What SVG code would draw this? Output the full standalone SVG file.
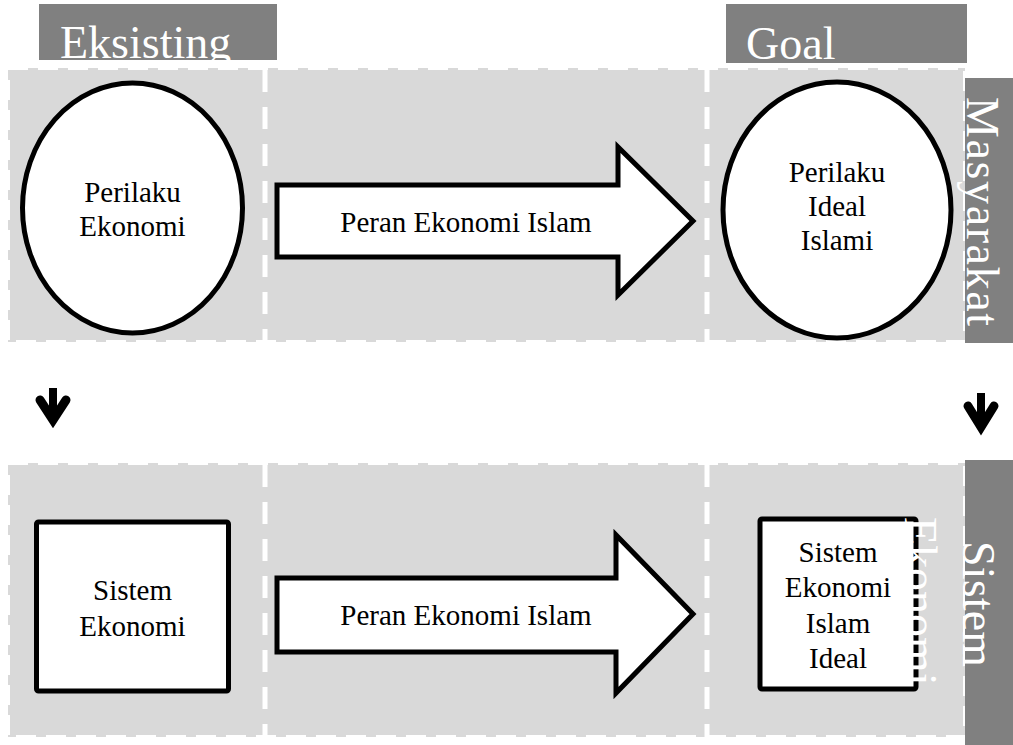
<svg xmlns="http://www.w3.org/2000/svg" width="1013" height="745" viewBox="0 0 1013 745">
<style>
.panel{fill:#d9d9d9;stroke:#ffffff;stroke-width:4;stroke-dasharray:20 10}
.vdash{stroke:#ffffff;stroke-width:5;stroke-dasharray:22 15;fill:none}
.dark{fill:#808080}
.node{fill:#ffffff;stroke:#000000;stroke-width:5}
.big{fill:#ffffff;stroke:#000000;stroke-width:5;stroke-linejoin:miter}
.t{font-family:'Liberation Serif',Tinos,Times,'Times New Roman',serif;font-size:29px;fill:#000000;text-anchor:middle}
.h{font-family:'Liberation Serif',Tinos,Times,'Times New Roman',serif;font-size:46px;fill:#ffffff}
.stem{stroke:#000000;stroke-width:8;fill:none}
.chev{stroke:#000000;stroke-width:9;fill:none;stroke-linecap:round;stroke-linejoin:miter;stroke-miterlimit:10}
</style>
<defs>
<clipPath id="clipEks"><rect x="39" y="4" width="238" height="56"/></clipPath>
</defs>
<rect width="1013" height="745" fill="#ffffff"/>

<g id="panels">
<rect class="panel" x="8" y="68" width="957" height="274"/>
<rect class="panel" x="8" y="463" width="957" height="274"/>
<line class="vdash" x1="265" y1="70" x2="265" y2="342"/>
<line class="vdash" x1="707" y1="70" x2="707" y2="342"/>
<line class="vdash" x1="265" y1="465" x2="265" y2="737"/>
<line class="vdash" x1="707" y1="465" x2="707" y2="737"/>
</g>

<g id="header-eksisting">
<rect class="dark" x="39" y="4" width="238" height="56"/>
<text class="h" font-family="Liberation Serif, serif" x="60" y="58" clip-path="url(#clipEks)">Eksisting</text>
</g>
<g id="header-goal">
<rect class="dark" x="726" y="4" width="241" height="59"/>
<text class="h" x="746" y="59">Goal</text>
</g>
<g id="label-masyarakat">
<rect class="dark" x="965" y="78" width="48" height="265"/>
<text class="h" transform="translate(967,97) rotate(90)" x="0" y="0" textLength="229" lengthAdjust="spacing">Masyarakat</text>
</g>
<g id="label-sistem">
<rect class="dark" x="965" y="460" width="48" height="285"/>
<text class="h" transform="translate(963,541) rotate(90)" x="0" y="0" textLength="126" lengthAdjust="spacing">Sistem</text>
</g>

<g id="node-perilaku-ekonomi">
<ellipse class="node" cx="132.5" cy="208" rx="110" ry="125"/>
<text class="t" x="132.5" y="202">Perilaku</text>
<text class="t" x="132.5" y="236">Ekonomi</text>
</g>

<g id="node-perilaku-ideal">
<ellipse class="node" cx="837" cy="210" rx="114" ry="128"/>
<text class="t" x="837" y="182">Perilaku</text>
<text class="t" x="837" y="216">Ideal</text>
<text class="t" x="837" y="250">Islami</text>
</g>

<g id="node-sistem-ekonomi">
<rect class="node" x="36.5" y="522" width="192" height="169" rx="2"/>
<text class="t" x="132.5" y="600">Sistem</text>
<text class="t" x="132.5" y="636">Ekonomi</text>
</g>

<g id="node-sistem-ideal">
<rect class="node" x="760" y="519" width="156" height="170" rx="2"/>
<text class="t" x="838" y="562">Sistem</text>
<text class="t" x="838" y="597">Ekonomi</text>
<text class="t" x="838" y="633">Islam</text>
<text class="t" x="838" y="668">Ideal</text>
</g>

<g id="label-ekonomi">
<text class="h" transform="translate(905,517) rotate(90)" x="0" y="0">Ekonomi</text>
</g>

<g id="connectors">
<g id="arrow-top">
<polygon class="big" points="277,185 618,185 618,147 693,221 618,295 618,257 277,257"/>
<text class="t" x="466" y="232">Peran Ekonomi Islam</text>
</g>
<g id="arrow-bottom">
<polygon class="big" points="277,578 616,578 616,535 693,614 616,693 616,652 277,652"/>
<text class="t" x="466" y="625">Peran Ekonomi Islam</text>
</g>
<g id="down-left">
<line class="stem" x1="53" y1="388" x2="53" y2="416"/>
<polyline class="chev" points="40,400 53,420 66,400"/>
</g>
<g id="down-right">
<line class="stem" x1="981" y1="393" x2="981" y2="422"/>
<polyline class="chev" points="968,406 981,427 994,406"/>
</g>
</g>
</svg>
